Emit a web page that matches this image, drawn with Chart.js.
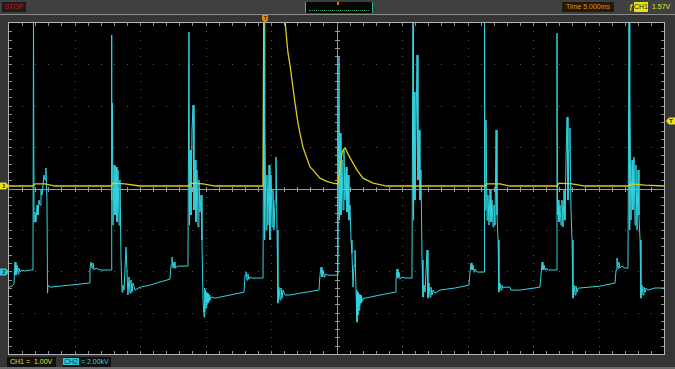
<!DOCTYPE html>
<html><head><meta charset="utf-8">
<script src="https://cdn.jsdelivr.net/npm/chart.js@4.4.1/dist/chart.umd.min.js"></script>
<style>
html,body{margin:0;padding:0;background:#353535;}
#wrap{position:relative;width:675px;height:369px;overflow:hidden;background:#353535;}
#topbar{position:absolute;left:0;top:0;width:675px;height:14px;background:#404040;border-bottom:1px solid #8a8a8a;z-index:2;}
#botline{position:absolute;left:0;top:367px;width:675px;height:2px;background:#6a6a6a;z-index:2;}
canvas{position:absolute;left:0;top:0;z-index:1;}
.lbl{position:absolute;font-family:"Liberation Sans",Arial,sans-serif;font-size:7px;line-height:10px;white-space:nowrap;z-index:3;}
</style></head>
<body>
<div id="wrap">
  <canvas id="c" width="675" height="369"></canvas>
  <div id="topbar"></div>
  <div id="botline"></div>
  <div class="lbl" style="left:2px;top:2px;width:24px;height:10px;background:#1c1c1c;color:#c01818;text-align:center;">STOP</div>
  <div class="lbl" style="left:305px;top:2px;width:68px;height:11px;background:#060606;border-left:1px solid #3cb07a;border-right:1px solid #3cb07a;box-sizing:border-box;">
    <div style="position:absolute;left:3px;right:3px;top:6px;height:2px;border-bottom:1px dotted #2fa060;"></div>
    <div style="position:absolute;left:31px;top:0;width:2px;height:3px;background:#e07a00;"></div>
  </div>
  <div class="lbl" style="left:562px;top:2px;width:52px;height:10px;background:#221b0c;color:#e08c10;text-align:center;">Time 5.000ms</div>
  <div class="lbl" style="left:629px;top:2px;color:#e6e020;font-style:italic;font-weight:bold;">ƒ</div>
  <div class="lbl" style="left:634px;top:2px;width:14px;height:10px;background:#e6e020;color:#303000;text-align:center;">CH1</div>
  <div class="lbl" style="left:652px;top:2px;color:#e6e020;">1.57V</div>
  <div class="lbl" style="left:7px;top:357px;width:49px;height:10px;background:#101010;color:#e6e020;padding-left:3px;box-sizing:border-box;">CH1 =&nbsp;&nbsp;1.00V</div>
  <div class="lbl" style="left:63px;top:357px;width:48px;height:10px;background:#101010;color:#30d0dc;">
    <span style="background:#30c8d8;color:#103040;padding:0 1px;">CH2</span> = 2.00kV</div>
</div>
<script>
// ---- scope settings ----
const timePerDiv = 5;          // ms / div
const ch1VoltsPerDiv = 1;      // V / div
const ch2KVPerDiv = 2;         // kV / div
const ch1OffsetDiv = 0.06;     // ground marker position (div above centre)
const ch2OffsetDiv = -2.02;
const triggerLevel = 1.57;     // V on CH1
const triggerTime = -5.45;     // ms

// ---- CH1 (V) ----
const ch1Time = [-25.00,-23.17,-23.02,-22.25,-21.49,-17.21,-17.06,-16.15,-15.00,-11.26,-11.11,-10.19,-9.27,-5.61,-5.53,
 -4.16,-3.93,-3.85,-3.70,-3.55,-3.40,-3.17,-2.94,-2.79,-2.56,-2.33,-2.02,-1.72,-1.26,-0.80,-0.27,0.11,
 0.42,0.50,0.65,1.03,1.56,2.02,2.79,3.85,11.34,11.49,12.48,13.24,16.83,16.98,17.98,18.97,22.33,22.48,23.55,25.00];
const ch1Volt = [0,0,0.05,0.05,0,0,0.07,0.05,0,0,0.07,0.05,0,0,6.0,
 4.8,4.01,3.70,3.21,2.92,2.56,2.01,1.52,1.28,0.94,0.73,0.46,0.36,0.19,0.12,0.07,0.05,
 0.80,0.87,0.92,0.68,0.39,0.19,0.07,0,0,0.05,0.05,0,0,0.07,0.05,0,0,0.05,0.02,0];

// ---- CH2 (kV) ----
const ch2Time = [
 -25.00,-24.77,-24.62,-24.54,-24.47,-24.39,-24.31,-24.24,-24.16,-24.01,-23.78,-23.40,-23.17,
 -23.13,-23.09,-23.02,-22.94,-22.86,-22.79,-22.71,-22.63,-22.56,-22.48,-22.33,-22.25,-22.18,-22.10,-22.06,-22.02,-21.87,-21.11,-20.34,-19.58,-18.89,
 -18.82,-18.74,-18.66,-18.59,-18.51,-18.36,-18.05,-17.21,
 -17.18,-17.14,-17.10,-17.06,-16.98,-16.91,-16.83,-16.76,-16.68,-16.60,-16.53,-16.45,-16.37,-16.30,-16.22,-16.07,-15.92,-15.84,-15.76,-15.69,-15.61,-15.53,-15.38,-15.00,-14.24,-13.47,-12.71,
 -12.63,-12.56,-12.48,-12.40,-12.33,-12.10,-11.34,
 -11.26,-11.22,-11.18,-11.11,-11.03,-10.95,-10.88,-10.80,-10.73,-10.65,-10.57,-10.50,-10.42,-10.34,-10.27,-10.19,
 -10.11,-10.08,-10.04,-10.00,-9.96,-9.92,-9.89,-9.85,-9.81,-9.77,-9.73,-9.69,-9.66,-9.58,-9.50,-9.27,-8.89,-8.13,-7.06,
 -6.98,-6.91,-6.83,-6.76,-6.68,-6.60,-6.45,-6.22,-5.61,
 -5.53,-5.50,-5.46,-5.38,-5.31,-5.23,-5.15,-5.08,-5.00,-4.92,-4.85,-4.77,-4.69,-4.62,-4.54,-4.47,-4.39,-4.31,-4.24,-4.16,-4.08,-3.93,-3.55,-2.79,-1.34,
 -1.26,-1.18,-1.11,-1.03,-0.95,-0.88,-0.65,0.11,
 0.19,0.23,0.27,0.34,0.42,0.50,0.57,0.65,0.73,0.80,0.88,0.95,1.03,1.11,1.18,1.26,1.34,1.41,1.49,
 1.56,1.60,1.64,1.68,1.72,1.76,1.79,1.83,1.87,1.91,1.95,2.02,2.18,2.56,3.32,4.47,
 4.54,4.62,4.69,4.77,4.85,5.00,5.23,5.76,
 5.84,5.88,5.92,5.99,6.07,6.15,6.22,6.30,6.37,6.45,6.53,6.60,6.68,6.76,6.91,6.98,7.06,7.14,7.21,7.29,7.37,7.52,7.90,9.05,10.11,
 10.19,10.27,10.34,10.42,10.50,10.57,10.73,10.95,11.26,
 11.30,11.34,11.41,11.49,11.56,11.64,11.72,11.79,11.87,11.95,12.02,12.10,12.18,12.25,12.33,12.40,12.48,12.56,12.63,12.71,12.86,13.24,13.32,14.01,15.53,
 15.61,15.69,15.76,15.84,15.92,15.99,16.15,16.76,
 16.83,16.87,16.91,16.98,17.06,17.14,17.21,17.29,17.37,17.44,17.52,17.60,17.67,17.75,17.82,17.90,17.98,18.05,18.13,18.21,18.28,18.36,18.44,18.59,20.11,21.26,
 21.34,21.41,21.49,21.56,21.64,21.79,22.02,22.25,
 22.33,22.37,22.40,22.48,22.56,22.63,22.71,22.79,22.86,22.94,23.02,23.09,23.17,23.24,23.32,23.40,23.47,23.55,23.63,23.78,24.31,25.00];
const ch2Volt = [
 -0.73,-0.68,-0.58,0.48,-0.15,0.34,-0.10,0.19,0,0.10,0.05,0.10,0.10,
 13.0,2.42,2.90,2.42,3.24,2.76,3.48,3.24,3.96,3.72,4.69,4.45,5.03,3.48,-1.02,-0.63,-0.73,-0.68,-0.63,-0.58,-0.53,
 0.10,0.48,0.19,0.44,0.10,0.19,0.10,0.10,
 11.46,3.48,8.17,2.27,5.17,2.76,5.08,2.42,4.93,2.27,4.45,0.58,-0.97,-0.63,-0.87,1.21,-1.11,-0.24,-1.02,-0.39,-0.97,-0.53,-0.87,-0.73,-0.63,-0.48,-0.34,
 0.34,0.73,0.19,0.48,0.19,0.29,0.29,
 11.60,2.27,5.90,2.76,6.86,8.07,3.00,5.41,2.42,4.93,2.18,4.45,2.90,3.72,1.55,-1.35,
 -2.18,-0.77,-1.93,-0.87,-1.74,-0.97,-1.60,-1.02,-1.50,-1.06,-1.40,-1.11,-1.35,-1.21,-1.21,-1.26,-1.21,-1.11,-0.97,
 -0.15,0,-0.39,-0.10,-0.34,-0.24,-0.29,-0.29,-0.29,
 13.0,1.55,7.25,2.03,4.69,2.27,5.17,1.55,4.69,2.18,3.96,2.03,3.48,5.56,2.03,-1.50,-0.73,-1.35,-0.77,-1.26,-0.87,-1.11,-1.11,-1.02,-0.87,
 -0.15,0.24,-0.24,0.10,-0.24,-0.10,-0.15,-0.15,
 10.39,2.51,6.72,2.76,5.41,3.00,5.90,3.48,5.08,2.90,4.69,2.51,3.24,1.55,0.92,-0.73,0.34,1.06,-0.87,
 -2.42,-0.97,-2.08,-1.02,-1.84,-1.06,-1.64,-1.11,-1.50,-1.16,-1.40,-1.26,-1.26,-1.21,-1.11,-0.97,
 -0.39,0.15,-0.29,0,-0.34,-0.24,-0.29,-0.29,
 13.0,2.51,8.70,3.48,6.86,10.49,4.45,6.86,3.48,4.93,0.58,-1.21,-0.63,-0.97,1.06,-1.26,-0.53,-1.21,-0.73,-1.11,-0.87,-1.02,-0.87,-0.77,-0.63,
 0,0.44,0.10,0.34,0,0.15,0,0,0,
 13.0,3.00,7.35,2.51,3.72,2.27,3.96,2.42,3.48,2.18,3.24,2.27,6.86,2.76,1.55,-0.97,-0.53,-0.87,-0.63,-0.77,-0.73,-0.73,-0.87,-0.87,-0.73,
 -0.15,0.48,0.10,0.34,0.10,0.19,0.10,0.10,
 11.55,2.76,3.48,2.42,3.24,2.27,3.48,2.18,3.96,2.51,5.41,7.49,3.48,5.90,6.96,3.00,1.55,-1.26,-0.63,-1.11,-0.68,-0.97,-0.77,-0.77,-0.68,-0.53,
 0.10,0.68,0.19,0.48,0.19,0.29,0.19,0.19,
 13.0,2.03,8.65,2.51,5.41,3.00,5.56,2.27,5.17,2.03,4.93,2.76,1.55,-1.26,-0.63,-1.11,-0.73,-0.97,-0.77,-0.87,-0.77,-0.77];

const ch1Points = ch1Time.map((t, i) => ({x: t, y: ch1Volt[i]}));
const ch2Points = ch2Time.map((t, i) => ({x: t, y: ch2Volt[i]}));

const scopeGrid = {
  id: 'scopeGrid',
  beforeDatasetsDraw(chart) {
    const {ctx, chartArea: a} = chart;
    const w = a.right - a.left, h = a.bottom - a.top;
    const dx = w / 10, dy = h / 8;
    ctx.save();
    ctx.fillStyle = '#000';
    ctx.fillRect(a.left, a.top, w, h);
    ctx.fillStyle = '#5c5c5c';
    for (let i = 1; i < 10; i++) {
      if (i === 5) continue;
      const x = Math.round(a.left + i * dx);
      for (let j = 1; j < 40; j++) ctx.fillRect(x, Math.round(a.top + j * dy / 5), 1, 1);
    }
    for (let j = 1; j < 8; j++) {
      if (j === 4) continue;
      const y = Math.round(a.top + j * dy);
      for (let i = 1; i < 50; i++) ctx.fillRect(Math.round(a.left + i * dx / 5), y, 1, 1);
    }
    const cx = Math.round(a.left + 5 * dx), cy = Math.round(a.top + 4 * dy);
    ctx.fillStyle = '#9a9a9a';
    ctx.fillRect(a.left, cy, w, 1);
    ctx.fillRect(cx, a.top, 1, h);
    for (let i = 1; i < 50; i++) ctx.fillRect(Math.round(a.left + i * dx / 5), cy - 2, 1, 5);
    for (let j = 1; j < 40; j++) ctx.fillRect(cx - 2, Math.round(a.top + j * dy / 5), 5, 1);
    ctx.fillStyle = '#8a8a8a';
    for (let i = 1; i < 50; i++) {
      const x = Math.round(a.left + i * dx / 5);
      ctx.fillRect(x, a.top, 1, 3);
      ctx.fillRect(x, a.bottom - 3, 1, 3);
    }
    for (let j = 1; j < 40; j++) {
      const y = Math.round(a.top + j * dy / 5);
      ctx.fillRect(a.left, y, 3, 1);
      ctx.fillRect(a.right - 3, y, 3, 1);
    }
    ctx.restore();
  },
  afterDraw(chart) {
    const {ctx, chartArea: a, scales} = chart;
    ctx.save();
    ctx.strokeStyle = '#b4b4b4';
    ctx.lineWidth = 1;
    ctx.strokeRect(a.left - 0.5, a.top - 0.5, a.right - a.left + 1, a.bottom - a.top + 1);
    const flagR = (y, col, txt) => {
      y = Math.round(y);
      ctx.fillStyle = col;
      ctx.beginPath();
      ctx.moveTo(0, y - 3.5); ctx.lineTo(6, y - 3.5); ctx.lineTo(9, y); ctx.lineTo(6, y + 3.5); ctx.lineTo(0, y + 3.5);
      ctx.closePath(); ctx.fill();
      ctx.fillStyle = '#202020';
      ctx.font = 'bold 6px "Liberation Sans"';
      ctx.textAlign = 'center'; ctx.textBaseline = 'middle';
      ctx.fillText(txt, 4, y + 0.5);
    };
    flagR(scales.y.getPixelForValue(0), '#e6e020', '1');
    flagR(scales.y2.getPixelForValue(0), '#30c8d8', '2');
    let ty = Math.round(scales.y.getPixelForValue(triggerLevel));
    ctx.fillStyle = '#e6e020';
    ctx.beginPath();
    ctx.moveTo(666, ty); ctx.lineTo(669, ty - 3.5); ctx.lineTo(675, ty - 3.5); ctx.lineTo(675, ty + 3.5); ctx.lineTo(669, ty + 3.5);
    ctx.closePath(); ctx.fill();
    ctx.fillStyle = '#202020';
    ctx.font = 'bold 6px "Liberation Sans"';
    ctx.textAlign = 'center'; ctx.textBaseline = 'middle';
    ctx.fillText('T', 671, ty + 0.5);
    const tx = Math.round(scales.x.getPixelForValue(triggerTime));
    ctx.fillStyle = '#e8860a';
    ctx.beginPath();
    ctx.moveTo(tx - 3, 15); ctx.lineTo(tx + 3, 15); ctx.lineTo(tx + 3, 20); ctx.lineTo(tx, 23); ctx.lineTo(tx - 3, 20);
    ctx.closePath(); ctx.fill();
    ctx.fillStyle = '#6a3a00';
    ctx.fillRect(tx - 1, 16, 3, 1);
    ctx.fillRect(tx, 16, 1, 4);
    ctx.restore();
  }
};

const ch1Min = (-4 - ch1OffsetDiv) * ch1VoltsPerDiv, ch1Max = (4 - ch1OffsetDiv) * ch1VoltsPerDiv;
const ch2Min = (-4 - ch2OffsetDiv) * ch2KVPerDiv, ch2Max = (4 - ch2OffsetDiv) * ch2KVPerDiv;

new Chart(document.getElementById('c'), {
  type: 'line',
  data: {
    datasets: [
      {label: 'CH1', data: ch1Points, yAxisID: 'y', borderColor: '#d9cc1c', borderWidth: 1.3, pointRadius: 0, tension: 0},
      {label: 'CH2', data: ch2Points, yAxisID: 'y2', borderColor: '#33d4e0', borderWidth: 1, pointRadius: 0, tension: 0}
    ]
  },
  options: {
    responsive: false,
    animation: false,
    events: [],
    layout: {padding: {left: 9, right: 11, top: 23, bottom: 15}},
    plugins: {legend: {display: false}, tooltip: {enabled: false}},
    scales: {
      x: {type: 'linear', min: -5 * timePerDiv, max: 5 * timePerDiv, display: false},
      y: {min: ch1Min, max: ch1Max, display: false},
      y2: {min: ch2Min, max: ch2Max, display: false, position: 'right'}
    }
  },
  plugins: [scopeGrid]
});
</script>
</body></html>
